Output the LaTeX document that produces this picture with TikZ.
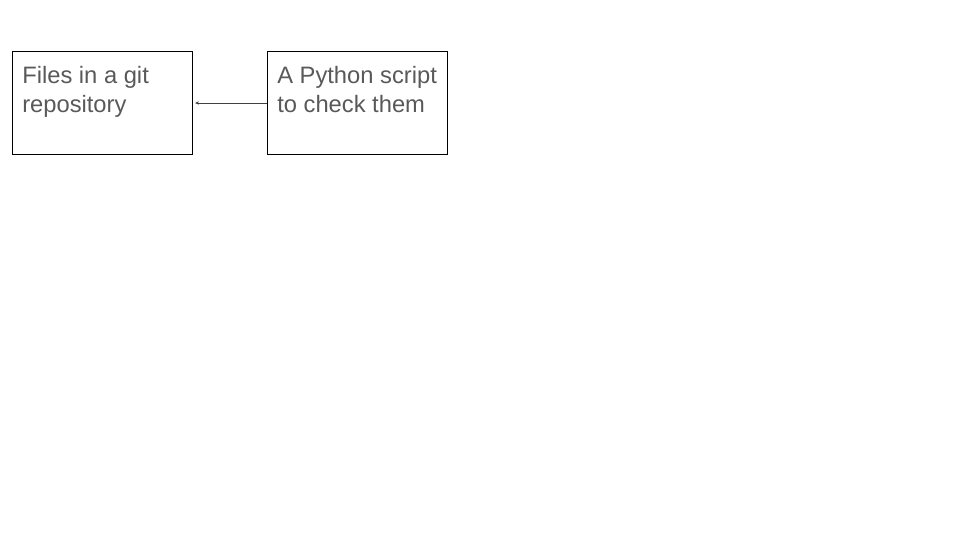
\documentclass[tikz,border=0pt]{standalone}
\usepackage{fontspec}
\setmainfont{Liberation Sans}
\usetikzlibrary{arrows.meta}
\definecolor{labelgray}{HTML}{595959}
\definecolor{arrowgray}{HTML}{404040}
\tikzset{
    box/.style={draw=black,line width=0.75pt,anchor=north west,
        minimum width=135pt,minimum height=77.25pt,inner sep=0pt},
    boxtext/.style={anchor=base west,align=left,inner sep=0pt,text=labelgray,
        font=\fontsize{17.8pt}{21.5pt}\selectfont}
}

\begin{document}
\begin{tikzpicture}[x=0.75pt,y=-0.75pt]
    \useasboundingbox (0,0) rectangle (960,540);
    \node[box] (files) at (12,51) {};
    \node[boxtext] (filestext) at (22,112) {Files in a git\\repository};
    \node[box] (python) at (267,51) {};
    \node[boxtext] (pythontext) at (277,112) {A Python script\\to check them};
    \draw[arrowgray,line width=0.6pt,-{Stealth[length=3pt,width=2.5pt]},shorten >=1.5pt]
        (python.west) -- (files.east);
\end{tikzpicture}
\end{document}
